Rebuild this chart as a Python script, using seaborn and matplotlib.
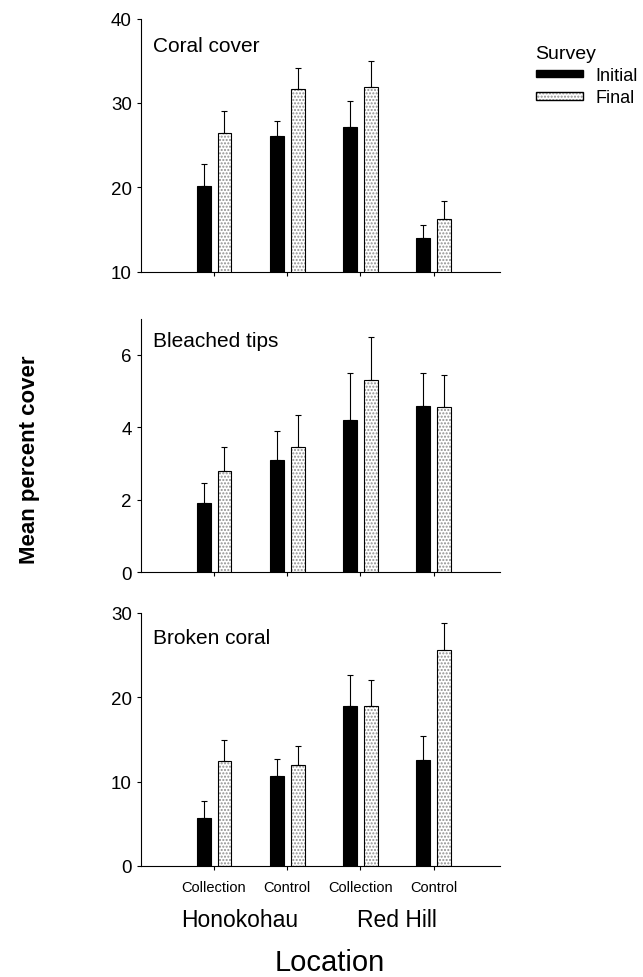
import numpy as np
import pandas as pd
import matplotlib
matplotlib.use('Agg')
import matplotlib.pyplot as plt
from matplotlib.patches import Patch
from matplotlib.colors import to_rgba
import seaborn as sns

sites = ['Honokohau Collection', 'Honokohau Control', 'Red Hill Collection', 'Red Hill Control']
site_labels = ['Collection', 'Control', 'Collection', 'Control']
locations = ['Honokohau', 'Red Hill']
surveys = ['Initial', 'Final']
panel_titles = ['Coral cover', 'Bleached tips', 'Broken coral']

coral_initial = [20.2, 26.1, 27.2, 14.0]
coral_initial_se = [2.6, 1.8, 3.0, 1.6]
coral_final = [26.4, 31.7, 31.9, 16.3]
coral_final_se = [2.6, 2.4, 3.1, 2.1]

bleach_initial = [1.9, 3.1, 4.2, 4.6]
bleach_initial_se = [0.55, 0.8, 1.3, 0.9]
bleach_final = [2.8, 3.45, 5.3, 4.55]
bleach_final_se = [0.65, 0.9, 1.2, 0.9]

broken_initial = [5.7, 10.7, 18.9, 12.5]
broken_initial_se = [2.0, 2.0, 3.7, 2.9]
broken_final = [12.4, 12.0, 18.9, 25.6]
broken_final_se = [2.5, 2.2, 3.1, 3.2]

sns.set_style('ticks', {'text.color': 'black', 'axes.labelcolor': 'black',
                        'xtick.color': 'black', 'ytick.color': 'black',
                        'axes.edgecolor': 'black'})
plt.rcParams['font.family'] = ['Liberation Sans', 'DejaVu Sans']

fig = plt.figure(figsize=(6.43, 9.78), dpi=100)

panels = [
    (panel_titles[0], coral_initial, coral_initial_se, coral_final, coral_final_se,
     (10, 40), [10, 20, 30, 40], 0.721, 0.93),
    (panel_titles[1], bleach_initial, bleach_initial_se, bleach_final, bleach_final_se,
     (0, 7), [0, 2, 4, 6], 0.414, 0.95),
    (panel_titles[2], broken_initial, broken_initial_se, broken_final, broken_final_se,
     (0, 30), [0, 10, 20, 30], 0.1135, 0.94),
]

hatch_grey = to_rgba('#8f8f8f')
axes = []
for title, ini, ini_se, fin, fin_se, ylim, yticks, bottom, ty in panels:
    ax = fig.add_axes([0.219, bottom, 0.558, 0.259])
    df = pd.DataFrame({
        'site': sites * 2,
        'survey': [surveys[0]] * 4 + [surveys[1]] * 4,
        'mean': ini + fin,
        'se': ini_se + fin_se,
    })
    sns.barplot(data=df, x='site', y='mean', hue='survey', order=sites,
                hue_order=surveys, palette={'Initial': 'black', 'Final': 'white'},
                width=0.57, gap=0.335, saturation=1, edgecolor='black',
                linewidth=0.8, errorbar=None, legend=False, ax=ax)
    for cont, sv in zip(ax.containers, surveys):
        sub = df[df['survey'] == sv].set_index('site').loc[sites]
        xs = [p.get_x() + p.get_width() / 2 for p in cont]
        ax.errorbar(xs, sub['mean'], yerr=[np.zeros(len(sites)), sub['se']],
                    fmt='none', ecolor='black', elinewidth=0.8,
                    capsize=2.5, capthick=0.8, zorder=1)
        if sv == 'Final':
            for p in cont:
                p.set_hatch('.....')
                p._hatch_color = hatch_grey
    ax.set_xlim(-1, 3.9)
    ax.set_ylim(*ylim)
    ax.set_yticks(yticks)
    ax.set_xlabel('')
    ax.set_ylabel('')
    ax.tick_params(length=3, width=0.8, labelsize=13.5)
    ax.tick_params(axis='x', pad=7, labelsize=10.5)
    for s in ['left', 'bottom']:
        ax.spines[s].set_linewidth(0.8)
    sns.despine(ax=ax)
    ax.text(0.035, ty, title, transform=ax.transAxes, va='top', ha='left', fontsize=15)
    axes.append(ax)

for ax in axes[:-1]:
    ax.set_xticklabels([])
axes[-1].set_xticklabels(site_labels)

ax = axes[-1]
ax.text(0.35, -0.21, locations[0], transform=ax.get_xaxis_transform(),
        ha='center', va='center', fontsize=16.5)
ax.text(2.5, -0.21, locations[1], transform=ax.get_xaxis_transform(),
        ha='center', va='center', fontsize=16.5)

fig.text(0.513, 0.0153, 'Location', ha='center', va='center', fontsize=21)
fig.text(0.046, 0.53, 'Mean percent cover', rotation=90, ha='center', va='center',
         fontsize=16, fontweight='bold')

handles = [Patch(facecolor='black', edgecolor='black'),
           Patch(facecolor='white', edgecolor='black', hatch='.....')]
handles[1]._hatch_color = hatch_grey
leg = fig.legend(handles, surveys, title='Survey', loc='upper left',
                 bbox_to_anchor=(0.833, 0.953), frameon=False, fontsize=13,
                 title_fontsize=14, handlelength=2.6, handleheight=0.3,
                 handletextpad=0.7, labelspacing=0.28, borderpad=0,
                 borderaxespad=0)
leg._legend_box.align = 'left'

plt.savefig('out.png', dpi=100)
